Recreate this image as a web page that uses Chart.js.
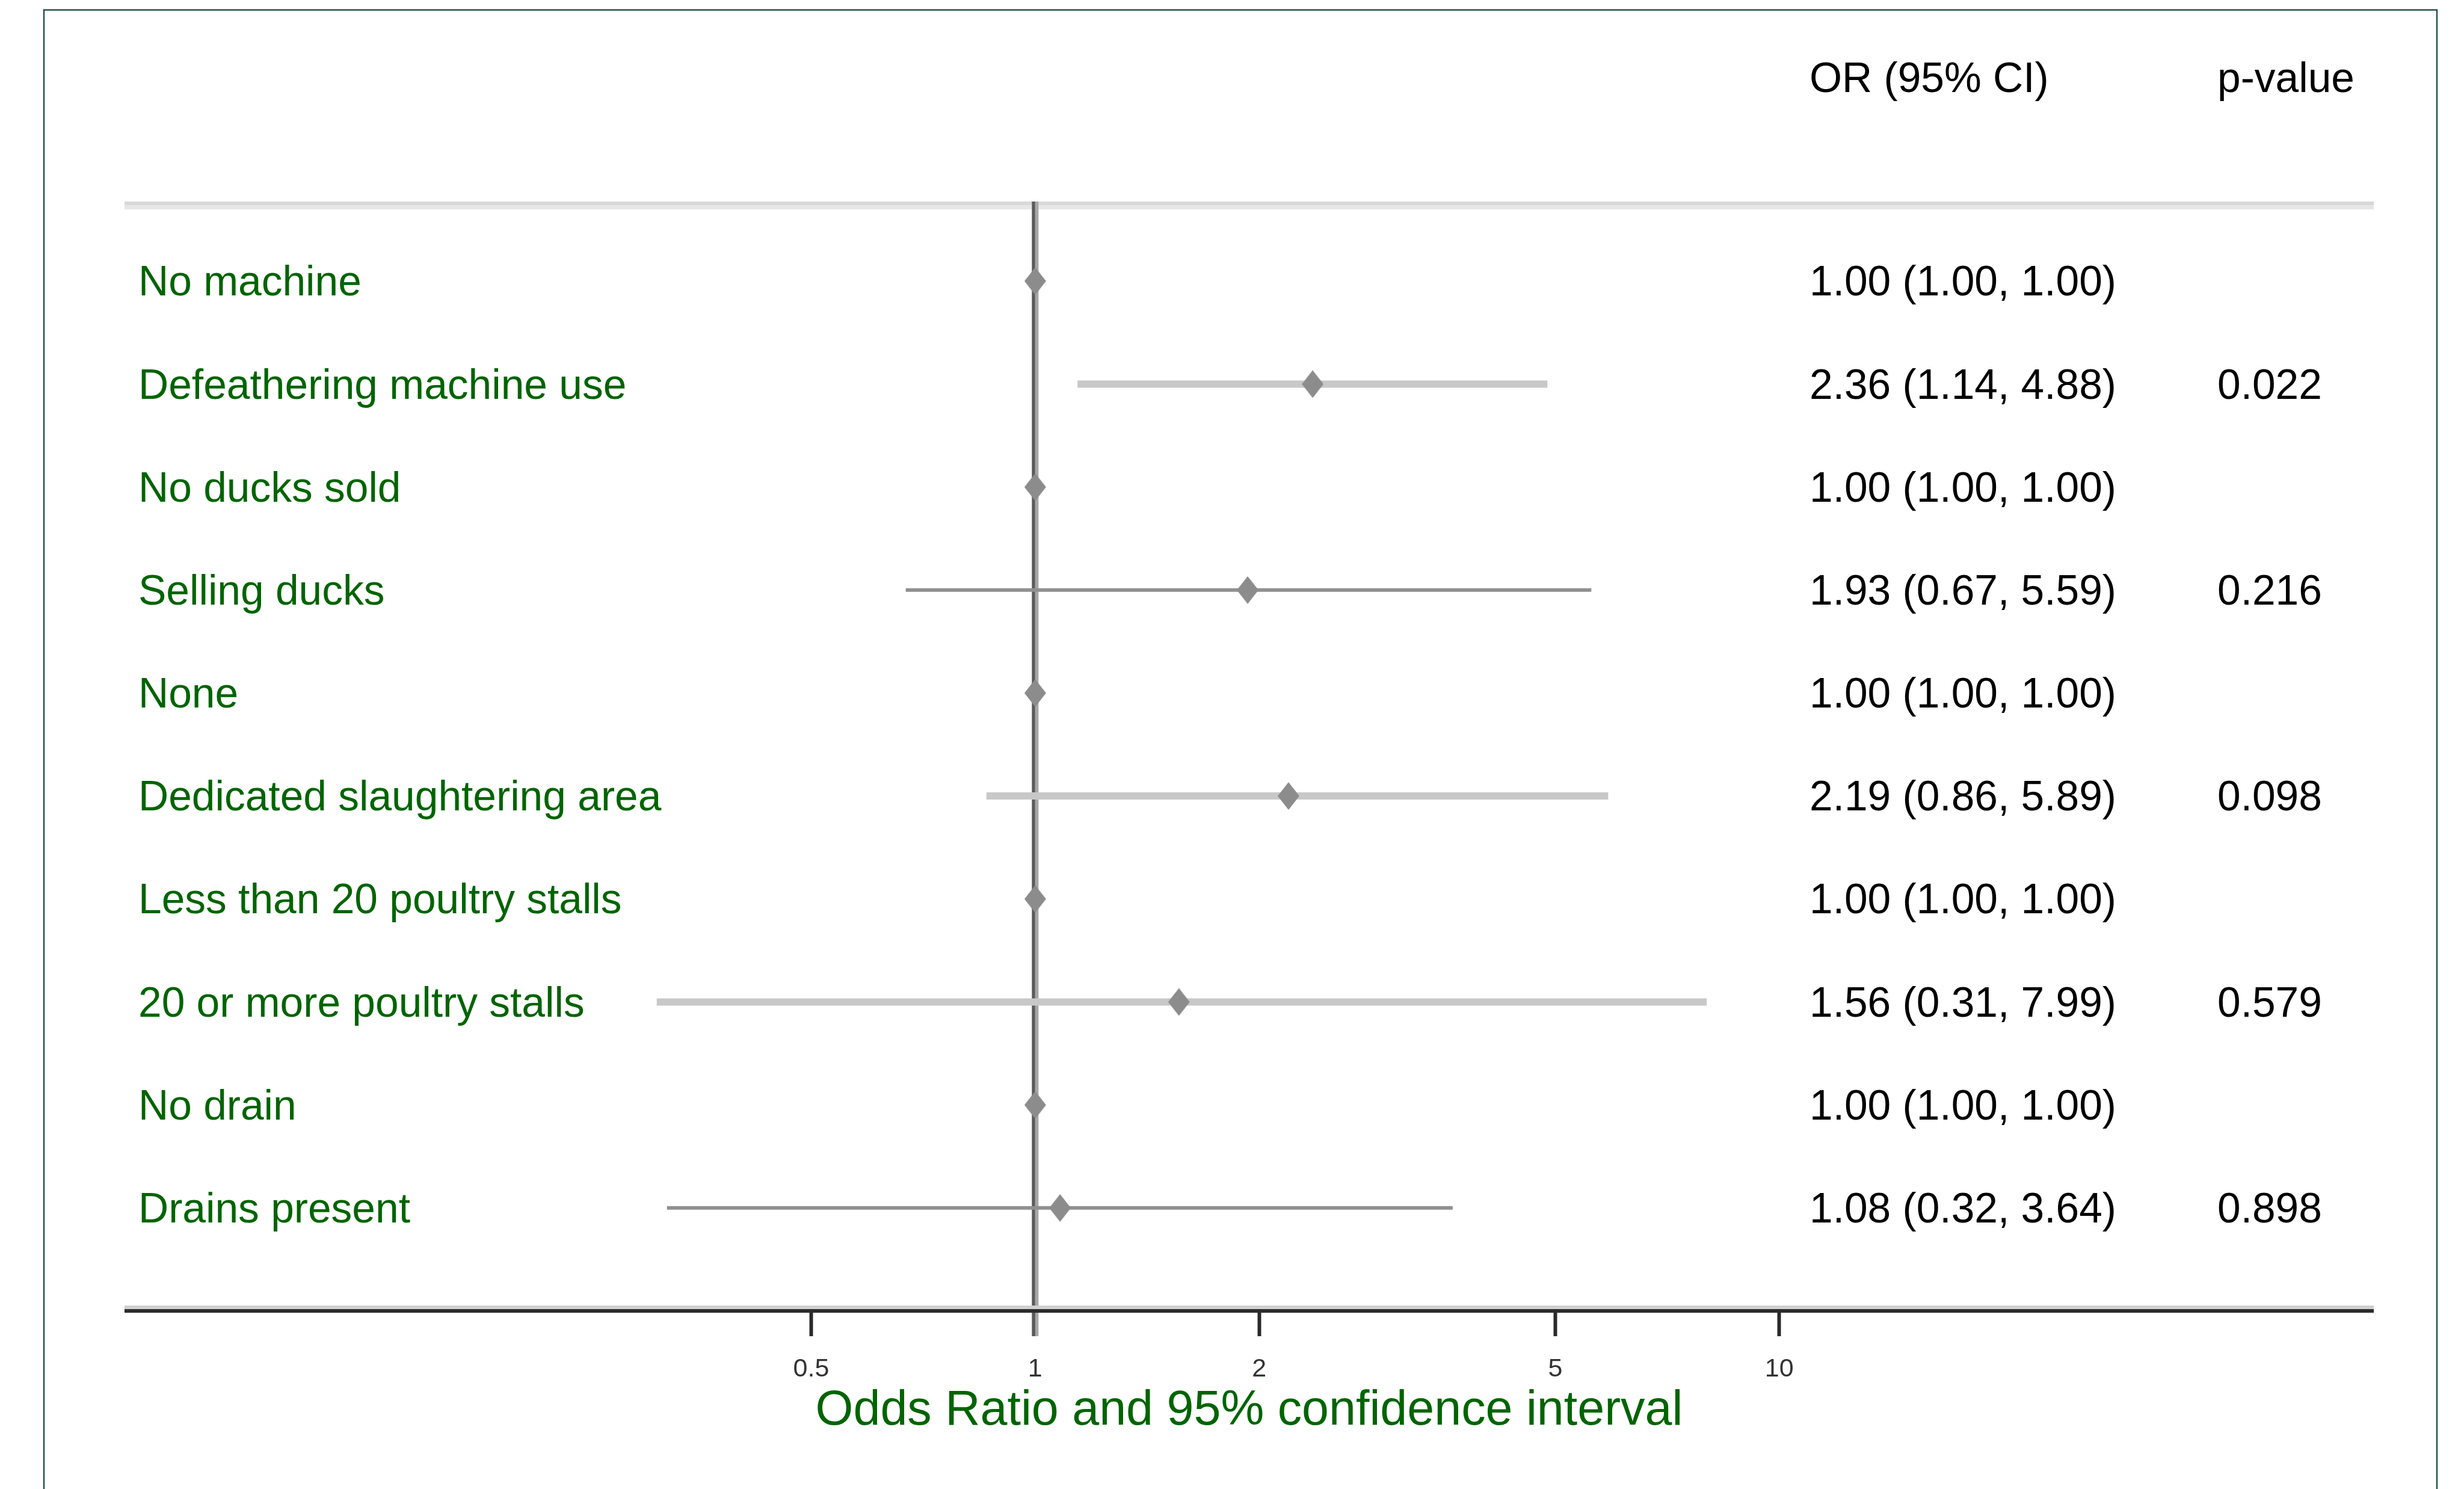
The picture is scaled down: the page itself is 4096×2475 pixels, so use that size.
<!DOCTYPE html>
<html>
<head>
<meta charset="utf-8">
<script src="https://cdn.jsdelivr.net/npm/chart.js@4.4.1/dist/chart.umd.min.js"></script>
<style>
  html, body { margin: 0; padding: 0; background: #ffffff; overflow: hidden; }
  canvas { display: block; }
</style>
</head>
<body>
<canvas id="chart" width="4096" height="2475"></canvas>
<script>
// ---------------- data ----------------
const categories = [
  'No machine',
  'Defeathering machine use',
  'No ducks sold',
  'Selling ducks',
  'None',
  'Dedicated slaughtering area',
  'Less than 20 poultry stalls',
  '20 or more poultry stalls',
  'No drain',
  'Drains present'
];
const oddsRatio = [1.00, 2.36, 1.00, 1.93, 1.00, 2.19, 1.00, 1.56, 1.00, 1.08];
const ciLower   = [1.00, 1.14, 1.00, 0.67, 1.00, 0.86, 1.00, 0.31, 1.00, 0.32];
const ciUpper   = [1.00, 4.88, 1.00, 5.59, 1.00, 5.89, 1.00, 7.99, 1.00, 3.64];
const pValues   = ['', '0.022', '', '0.216', '', '0.098', '', '0.579', '', '0.898'];
const xTickValues = [0.5, 1, 2, 5, 10];
const xTickLabels = ['0.5', '1', '2', '5', '10'];
const headerLabels = ['OR (95% CI)', 'p-value'];
const axisTitle = 'Odds Ratio and 95% confidence interval';

// ---------------- styles / layout ----------------
const ciSoft = [false, true, false, false, false, true, false, true, false, false];

function fontAvailable(name) {
  const c = document.createElement('canvas').getContext('2d');
  const s = 'Defeathering machine use 0123456789 ()';
  c.font = '40px monospace';
  const a = c.measureText(s).width;
  c.font = "40px '" + name + "', monospace";
  const b = c.measureText(s).width;
  return Math.abs(a - b) > 0.5;
}
const NARROW = fontAvailable('Liberation Sans Narrow');
const FAMILY = NARROW
  ? "'Liberation Sans Narrow', 'Liberation Sans', Arial, sans-serif"
  : "'Liberation Sans', Arial, sans-serif";
const FS_LABEL = NARROW ? 82 : 69.5;
const FS_TICK = NARROW ? 50 : 43;
const FS_TITLE = NARROW ? 94 : 80.8;

const W = 4096, H = 2475;
const AREA = { left: 207, right: 3946, top: 335, bottom: 2179 };
const TEXT_DY = 5;                      // optical centring of text
const TITLE_CENTER_Y = 2341 + TEXT_DY;
const TICK_LABEL_CENTER_Y = 2271 + TEXT_DY;
const TICK_LEN = 42;
const COL_OR_X = 3008, COL_P_X = 3686, HEADER_Y = 128.6 + TEXT_DY;
const GREEN = '#006400';

const xAxisHeight = TITLE_CENTER_Y + FS_TITLE * 1.2 / 2 - AREA.bottom;
const bottomPad = H - (AREA.bottom + xAxisHeight);
const tickPad = TICK_LABEL_CENTER_Y - AREA.bottom - TICK_LEN - FS_TICK * 1.2 / 2;

// diamond marker
const diamond = document.createElement('canvas');
diamond.width = 36; diamond.height = 46;
(function () {
  const d = diamond.getContext('2d');
  d.fillStyle = '#8c8c8c';
  d.beginPath();
  d.moveTo(18, 0); d.lineTo(36, 23); d.lineTo(18, 46); d.lineTo(0, 23);
  d.closePath(); d.fill();
})();

const decor = {
  id: 'decor',
  beforeDraw(chart) {
    const ctx = chart.ctx;
    ctx.save();
    ctx.fillStyle = '#ffffff';
    ctx.fillRect(0, 0, chart.width, chart.height);
    ctx.restore();
  },
  beforeDatasetsDraw(chart) {
    const ctx = chart.ctx;
    const a = chart.chartArea;
    const xs = chart.scales.x;
    ctx.save();
    // header rule
    ctx.fillStyle = '#d8d8d8';
    ctx.fillRect(a.left, a.top, a.right - a.left, 6.5);
    ctx.fillStyle = '#e6e6e6';
    ctx.fillRect(a.left, a.top + 6.5, a.right - a.left, 6.5);
    // reference line at OR = 1
    const px = xs.getPixelForValue(1);
    ctx.fillStyle = '#5a5a5a';
    ctx.fillRect(px - 5.5, a.top, 5.5, a.bottom + TICK_LEN - a.top);
    ctx.fillStyle = '#a6a6a6';
    ctx.fillRect(px, a.top, 5.5, a.bottom + TICK_LEN - a.top);
    // axis rule
    ctx.fillStyle = '#d0d0d0';
    ctx.fillRect(a.left, a.bottom - 9, a.right - a.left, 6);
    ctx.fillStyle = '#2c2c2c';
    ctx.fillRect(a.left, a.bottom - 3, a.right - a.left, 6);
    ctx.restore();
  },
  afterDraw(chart) {
    const ctx = chart.ctx;
    const ys = chart.scales.y;
    ctx.save();
    ctx.fillStyle = '#000000';
    ctx.textAlign = 'left';
    ctx.textBaseline = 'middle';
    ctx.font = FS_LABEL + 'px ' + FAMILY;
    ctx.fillText(headerLabels[0], COL_OR_X, HEADER_Y);
    ctx.fillText(headerLabels[1], COL_P_X, HEADER_Y);
    categories.forEach((_, i) => {
      const y = ys.getPixelForValue(i) + TEXT_DY;
      const txt = oddsRatio[i].toFixed(2) + ' (' + ciLower[i].toFixed(2) + ', ' + ciUpper[i].toFixed(2) + ')';
      ctx.fillText(txt, COL_OR_X, y);
      if (pValues[i]) ctx.fillText(pValues[i], COL_P_X, y);
    });
    // outer frame (bottom edge runs off the picture)
    ctx.strokeStyle = '#245443';
    ctx.lineWidth = 2.5;
    ctx.strokeRect(73, 16.5, 4051 - 73, H + 50);
    ctx.restore();
  }
};

const pointData = categories.map((_, i) => ({ x: oddsRatio[i], y: i }));
const ciDatasets = categories.map((_, i) => ({
  type: 'scatter',
  showLine: true,
  data: [{ x: ciLower[i], y: i }, { x: ciUpper[i], y: i }],
  borderColor: ciSoft[i] ? '#c8c8c8' : '#909090',
  borderWidth: ciSoft[i] ? 12 : 6,
  pointRadius: 0,
  pointHoverRadius: 0,
  order: 1
}));

new Chart(document.getElementById('chart'), {
  type: 'scatter',
  data: {
    datasets: [
      {
        type: 'scatter',
        data: pointData,
        pointStyle: diamond,
        pointRadius: 20,
        pointHoverRadius: 20,
        backgroundColor: '#8c8c8c',
        borderWidth: 0,
        order: 0
      },
      ...ciDatasets
    ]
  },
  options: {
    responsive: false,
    devicePixelRatio: 1,
    animation: false,
    events: [],
    layout: { padding: { left: AREA.left, right: W - AREA.right, top: AREA.top, bottom: bottomPad } },
    plugins: { legend: { display: false }, tooltip: { enabled: false }, title: { display: false } },
    scales: {
      x: {
        type: 'logarithmic',
        position: 'bottom',
        bounds: 'data',
        min: 0.05972,
        max: 62.95,
        afterBuildTicks: s => { s.ticks = xTickValues.map(v => ({ value: v })); },
        afterFit: s => { s.height = xAxisHeight; },
        grid: { display: true, drawOnChartArea: false, drawTicks: true, tickLength: TICK_LEN, tickWidth: 6, tickColor: '#2a2a2a' },
        border: { display: false },
        ticks: {
          autoSkip: false,
          maxRotation: 0,
          padding: tickPad,
          color: '#333333',
          font: { family: FAMILY, size: FS_TICK, lineHeight: 1.2 },
          callback: (v, i) => xTickLabels[i]
        },
        title: {
          display: true,
          text: axisTitle,
          color: GREEN,
          padding: 0,
          font: { family: FAMILY, size: FS_TITLE, lineHeight: 1.2 }
        }
      },
      y: {
        type: 'linear',
        position: 'left',
        bounds: 'data',
        reverse: true,
        min: -0.7726,
        max: 10.0,
        afterBuildTicks: s => { s.ticks = categories.map((_, i) => ({ value: i })); },
        afterFit: s => { s.width = 0; },
        grid: { display: false },
        border: { display: false },
        ticks: {
          mirror: true,
          padding: 23,
          labelOffset: TEXT_DY,
          autoSkip: false,
          color: GREEN,
          font: { family: FAMILY, size: FS_LABEL, lineHeight: 1.2 },
          callback: v => categories[v]
        }
      }
    }
  },
  plugins: [decor]
});
</script>
</body>
</html>
